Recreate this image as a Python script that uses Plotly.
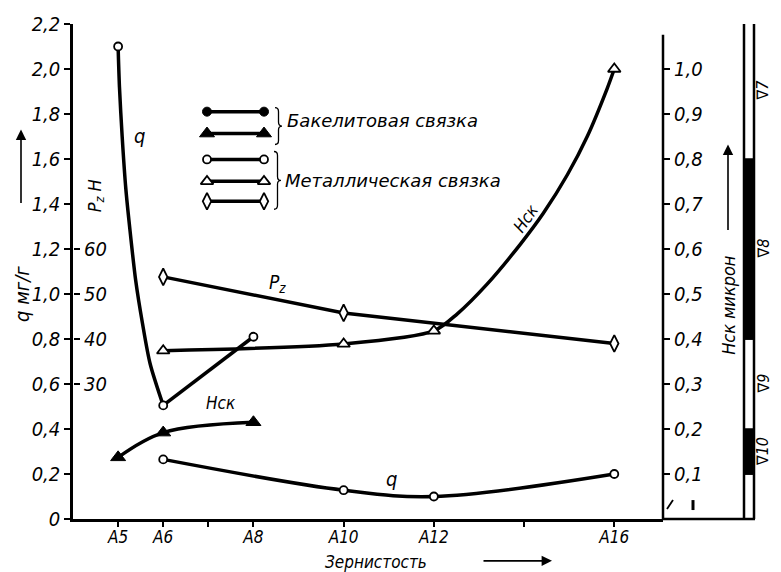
import plotly.graph_objects as go

# ---------------------------------------------------------------- data
# grain size number (А5 ... А16) along the horizontal axis
x_tick_vals = [5, 6, 7, 8, 10, 12, 14, 16]
x_tick_text = ["А5", "А6", "", "А8", "А10", "А12", "", "А16"]

# left scale: specific consumption q, mg/g
q_tick_vals = [0, 0.2, 0.4, 0.6, 0.8, 1.0, 1.2, 1.4, 1.6, 1.8, 2.0, 2.2]
q_tick_text = ["0", "0,2", "0,4", "0,6", "0,8", "1,0", "1,2", "1,4", "1,6", "1,8", "2,0", "2,2"]

# inner left scale: cutting force Pz, N
pz_tick_vals = [30, 40, 50, 60]
pz_tick_text = ["30", "40", "50", "60"]

# right scale: roughness height Hск, micron
h_tick_vals = [0.1, 0.2, 0.3, 0.4, 0.5, 0.6, 0.7, 0.8, 0.9, 1.0]
h_tick_text = ["0,1", "0,2", "0,3", "0,4", "0,5", "0,6", "0,7", "0,8", "0,9", "1,0"]

# metal bond, q for coarse grains
q_coarse_grain = [5, 6, 8]
q_coarse = [2.10, 0.505, 0.81]
# steep branch А5 -> А6
q_steep_x = [5.0, 5.03, 5.09, 5.17, 5.26, 5.39, 5.54, 5.71, 6.0]
q_steep_y = [2.10, 1.92, 1.70, 1.47, 1.29, 1.06, 0.87, 0.69, 0.505]

# metal bond, q for fine grains
q_fine_grain = [6, 10, 12, 16]
q_fine = [0.265, 0.128, 0.10, 0.20]

# metal bond, cutting force Pz, N
pz_grain = [6, 10, 16]
pz_metal = [53.8, 45.8, 39.0]

# metal bond, Hск, micron
h_metal_grain = [6, 10, 12, 16]
h_metal = [0.374, 0.389, 0.418, 1.0]
# rising branch А12 -> А16
h_metal_path_x = [6, 10, 12, 12.52, 13.18, 13.92, 14.43, 14.96, 15.40, 15.84, 16]
h_metal_path_y = [0.374, 0.389, 0.418, 0.456, 0.522, 0.611, 0.680, 0.765, 0.850, 0.956, 1.0]

# bakelite bond, Hск, micron
h_bakelite_grain = [5, 6, 8]
h_bakelite = [0.137, 0.192, 0.215]

# surface finish classes on the Hск scale
finish_bounds = [0.0, 0.1, 0.2, 0.4, 0.8, 1.107]
finish_fill = ["white", "black", "white", "black", "white"]
finish_labels = ["", "∇10", "∇9", "∇8", "∇7"]

# ---------------------------------------------------------------- geometry
W, H = 781, 572
ML, MR, MT, MB = 73, 118, 22, 53
PW = W - ML - MR
PH = H - MT - MB
X_RANGE = [4.0, 17.08]
Q_RANGE = [0, 2.2]
PZ_RANGE = [0, 110]
H_RANGE = [0, 1.1]


def pxp(xpix):
    return (xpix - ML) / PW


def pyp(ypix):
    return (H - MB - ypix) / PH


def dx(xpix):
    return X_RANGE[0] + pxp(xpix) * (X_RANGE[1] - X_RANGE[0])


def dq(ypix):
    return Q_RANGE[0] + pyp(ypix) * (Q_RANGE[1] - Q_RANGE[0])


NARROW = "Liberation Sans Narrow, DejaVu Sans Condensed, Arial Narrow, sans-serif"
WIDE = "DejaVu Sans, Liberation Sans, sans-serif"
TICK_FONT = dict(family=NARROW, size=20, color="black", style="italic")
X_TICK_FONT = dict(family=NARROW, size=17, color="black", style="italic")
LW = 3.5

HOLLOW_CIRCLE = dict(symbol="circle", size=8, color="white", line=dict(color="black", width=1.8))
HOLLOW_TRI = dict(symbol="triangle-up", size=11, color="white", line=dict(color="black", width=1.8))
HOLLOW_DIAM = dict(symbol="diamond-tall", size=12, color="white", line=dict(color="black", width=1.8))
SOLID_CIRCLE = dict(symbol="circle", size=9, color="black", line=dict(color="black", width=1))
SOLID_TRI = dict(symbol="triangle-up", size=13, color="black", line=dict(color="black", width=1))

fig = go.Figure()


def line(x, y, yaxis="y", shape="linear", smoothing=1.0, width=LW):
    fig.add_trace(go.Scatter(
        x=x, y=y, yaxis=yaxis, mode="lines", hoverinfo="skip", showlegend=False,
        line=dict(color="black", width=width, shape=shape, smoothing=smoothing)))


def marks(x, y, marker, yaxis="y"):
    fig.add_trace(go.Scatter(
        x=x, y=y, yaxis=yaxis, mode="markers", showlegend=False, marker=marker,
        cliponaxis=False))


# curves
line(q_steep_x, q_steep_y, shape="spline", smoothing=0.8)
line(q_coarse_grain[1:], q_coarse[1:])
line(q_fine_grain, q_fine, shape="spline", smoothing=1.0)
line(pz_grain, pz_metal, yaxis="y2")
line(h_metal_path_x, h_metal_path_y, yaxis="y3", shape="spline", smoothing=0.8)
line(h_bakelite_grain, h_bakelite, yaxis="y3", shape="spline", smoothing=1.0)

# measured points
marks(q_coarse_grain, q_coarse, HOLLOW_CIRCLE)
marks(q_fine_grain, q_fine, HOLLOW_CIRCLE)
marks(pz_grain, pz_metal, HOLLOW_DIAM, yaxis="y2")
marks(h_metal_grain, h_metal, HOLLOW_TRI, yaxis="y3")
marks(h_bakelite_grain, h_bakelite, SOLID_TRI, yaxis="y3")

# key samples
key_rows = [(110, SOLID_CIRCLE), (132, SOLID_TRI), (158, HOLLOW_CIRCLE),
            (180, HOLLOW_TRI), (200, HOLLOW_DIAM)]
for ky, km in key_rows:
    kx = [dx(207), dx(264)]
    kyv = [dq(ky), dq(ky)]
    line(kx, kyv, width=3.5)
    marks(kx, kyv, km)

# ---------------------------------------------------------------- shapes
shapes = []
# x axis continues under the right-hand scales
shapes.append(dict(type="line", xref="paper", yref="paper", x0=1, x1=pxp(755), y0=0, y1=0,
                   line=dict(color="black", width=2.5)))
# right Hск axis line
shapes.append(dict(type="line", xref="paper", yref="y3", x0=1, x1=1, y0=0, y1=1.076,
                   line=dict(color="black", width=2.5)))
# surface finish bar
bx0, bx1 = pxp(744), pxp(754)
for i, fill in enumerate(finish_fill):
    shapes.append(dict(type="rect", xref="paper", yref="y3", x0=bx0, x1=bx1,
                       y0=finish_bounds[i], y1=finish_bounds[i + 1],
                       fillcolor=fill, line=dict(color="black", width=1.5)))
shapes.append(dict(type="rect", xref="paper", yref="y3", x0=bx0, x1=bx1,
                   y0=finish_bounds[0], y1=finish_bounds[-1],
                   fillcolor="rgba(0,0,0,0)", line=dict(color="black", width=2.5)))
# small marks near the lower right corner
shapes.append(dict(type="line", xref="paper", yref="paper", x0=pxp(667), x1=pxp(673),
                   y0=pyp(509), y1=pyp(500), line=dict(color="black", width=1.8)))
shapes.append(dict(type="line", xref="paper", yref="paper", x0=pxp(693), x1=pxp(693),
                   y0=pyp(510), y1=pyp(500), line=dict(color="black", width=3)))


def brace(x0, top, bottom):
    mid = (top + bottom) / 2
    x1, x2 = x0 + 3.5, x0 + 7
    r = 4
    pts = [("M", x0, top), ("Q", x1, top), ("", x1, top + r), ("L", x1, mid - r),
           ("Q", x1, mid), ("", x2, mid), ("Q", x1, mid), ("", x1, mid + r),
           ("L", x1, bottom - r), ("Q", x1, bottom), ("", x0, bottom)]
    path = " ".join(f"{c}{pxp(a):.5f},{pyp(b):.5f}" if c else f"{pxp(a):.5f},{pyp(b):.5f}"
                    for c, a, b in pts)
    return dict(type="path", xref="paper", yref="paper", path=path,
                line=dict(color="black", width=1.3))


shapes.append(brace(275, 106, 143))
shapes.append(brace(274, 150, 208))

# ---------------------------------------------------------------- annotations
ann = []


def text(s, xpix, ypix, size=17, angle=0, family=NARROW, italic=True, xanchor="center"):
    ann.append(dict(text=s, x=pxp(xpix), y=pyp(ypix), xref="paper", yref="paper",
                    showarrow=False, textangle=angle, xanchor=xanchor, yanchor="middle",
                    borderpad=0,
                    font=dict(family=family, size=size, color="black",
                              style="italic" if italic else "normal")))


def arrow(x_head, y_head, ax, ay):
    ann.append(dict(text="", x=pxp(x_head), y=pyp(y_head), xref="paper", yref="paper",
                    ax=ax, ay=ay, showarrow=True, arrowhead=2, arrowsize=1.3,
                    arrowwidth=1.6, arrowcolor="black"))


text("q мг/г", 22, 293, size=20, angle=-90)
arrow(21, 128, 0, 75)
text("P<sub>z</sub> Н", 96, 195, size=18, angle=-90)
text("Нск микрон", 729, 305, size=18, angle=-90)
arrow(728, 143, 0, 87)
text("Зернистость", 376, 562, size=17)
arrow(552, 561, -70, 0)

for i, lab in enumerate(finish_labels):
    if lab:
        ymid = (finish_bounds[i] + finish_bounds[i + 1]) / 2
        ann.append(dict(text=lab, x=pxp(774), y=ymid, xref="paper", yref="y3",
                        showarrow=False, textangle=-90,
                        font=dict(family=NARROW, size=16, color="black", style="italic")))

text("q", 139, 134, size=20)
text("P<sub>z</sub>", 277, 283, size=19)
text("Нск", 221, 403, size=17)
text("Нск", 526, 217, size=17, angle=-55)
text("q", 391, 479, size=20)

text("Бакелитовая связка", 286, 119, size=18, family=WIDE, xanchor="left")
text("Металлическая связка", 284, 179, size=18, family=WIDE, xanchor="left")

# ---------------------------------------------------------------- layout
fig.update_layout(
    width=W, height=H,
    margin=dict(l=ML, r=MR, t=MT, b=MB, pad=0),
    paper_bgcolor="white", plot_bgcolor="white",
    showlegend=False,
    xaxis=dict(range=X_RANGE, tickvals=x_tick_vals, ticktext=x_tick_text,
               ticks="outside", ticklen=5, tickwidth=1.5, tickcolor="black",
               ticklabelstandoff=-4,
               showline=True, linewidth=2.5, linecolor="black",
               showgrid=False, zeroline=False, tickfont=X_TICK_FONT, fixedrange=True),
    yaxis=dict(range=Q_RANGE, tickvals=q_tick_vals, ticktext=q_tick_text,
               ticks="outside", ticklen=6, tickwidth=2, tickcolor="black",
               showline=True, linewidth=2.5, linecolor="black",
               showgrid=False, zeroline=False, tickfont=TICK_FONT, fixedrange=True),
    yaxis2=dict(range=PZ_RANGE, overlaying="y", anchor="free", position=0, side="right",
                tickvals=pz_tick_vals, ticktext=pz_tick_text,
                ticks="outside", ticklen=6, tickwidth=2, tickcolor="black",
                showline=False, showgrid=False, zeroline=False,
                tickfont=TICK_FONT, fixedrange=True),
    yaxis3=dict(range=H_RANGE, overlaying="y", anchor="x", side="right",
                tickvals=h_tick_vals, ticktext=h_tick_text,
                ticks="outside", ticklen=6, tickwidth=1.5, tickcolor="black",
                showline=False, showgrid=False, zeroline=False,
                tickfont=TICK_FONT, fixedrange=True),
    shapes=shapes,
    annotations=ann,
)

fig.write_html("out.html")
